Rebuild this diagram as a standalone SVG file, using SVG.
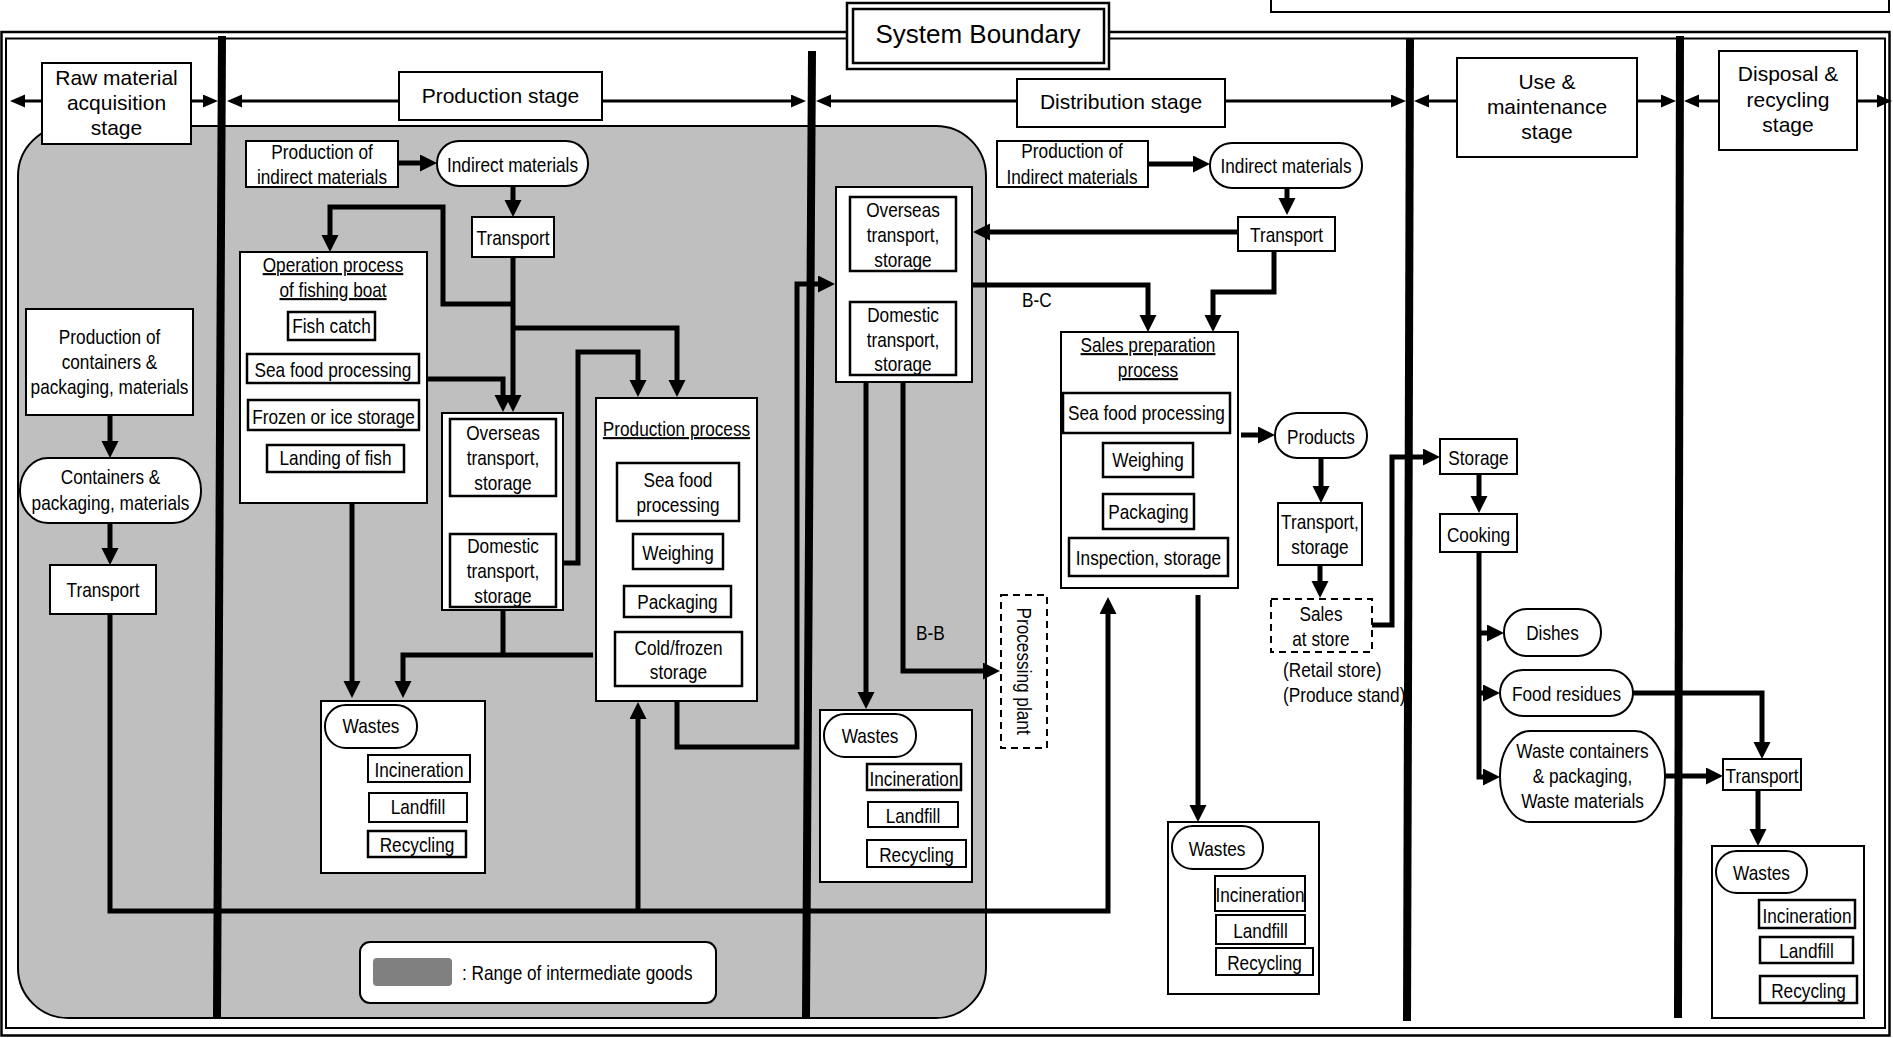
<svg xmlns="http://www.w3.org/2000/svg" width="1893" height="1038" viewBox="0 0 1893 1038">
<style>
.bx{fill:#fff;stroke:#000;stroke-width:2}
.ib{fill:#fff;stroke:#000;stroke-width:2.5}
.dash{fill:#fff;stroke:#000;stroke-width:2;stroke-dasharray:7 5}
.c{fill:none;stroke:#000;stroke-width:5;marker-end:url(#a)}
.l{fill:none;stroke:#000;stroke-width:5}
.s{fill:none;stroke:#000;stroke-width:3;marker-end:url(#t)}
.dv{stroke:#000;stroke-width:8;fill:none}
.n{font-family:"Liberation Sans Narrow","Arial Narrow","Liberation Sans",Arial,sans-serif;font-size:21px;text-anchor:middle;fill:#000;transform-box:fill-box;transform-origin:50% 50%;transform:scaleX(0.82)}
.w{font-family:"Liberation Sans",Arial,sans-serif;font-size:21px;text-anchor:middle;fill:#000}
.st{text-anchor:start;transform-origin:0% 50%}
.u{text-decoration:underline}
</style>
<defs>
<marker id="a" markerUnits="userSpaceOnUse" markerWidth="18" markerHeight="18" refX="7" refY="8.5" orient="auto"><path d="M0,0 L17,8.5 L0,17 z" fill="#000"/></marker>
<marker id="t" markerUnits="userSpaceOnUse" markerWidth="16" markerHeight="14" refX="5" refY="6.5" orient="auto"><path d="M0,0 L15,6.5 L0,13 z" fill="#000"/></marker>
</defs>
<rect width="1893" height="1038" fill="#fff"/>
<g id="frame">
<rect x="1.5" y="32" width="1888" height="1003.5" fill="none" stroke="#000" stroke-width="2.5"/>
<rect x="6" y="38.5" width="1879" height="989.5" fill="none" stroke="#000" stroke-width="2"/>
</g>
<g id="title-box">
<rect x="1271" y="-10" width="618" height="22" class="bx"/>
</g>
<g id="system-boundary">
<rect x="847" y="3" width="262" height="66" fill="#fff" stroke="#000" stroke-width="2.5"/>
<rect x="853" y="9" width="251" height="54" fill="#fff" stroke="#000" stroke-width="2.5"/>
<text x="978" y="43" class="w" style="font-size:26px">System Boundary</text>
</g>
<g id="intermediate-range">
<rect x="18" y="126" width="968" height="892" rx="50" fill="#bfbfbf" stroke="#000" stroke-width="2"/>
</g>
<g id="legend">
<rect x="360" y="942" width="356" height="61" rx="10" class="bx"/>
<rect x="373" y="958" width="79" height="28" rx="4" fill="#808080"/>
<text x="462" y="980" class="n st">: Range of intermediate goods</text>
</g>
<g id="dividers">
<path class="dv" d="M222,36 L217,1018"/>
<path class="dv" d="M812,51 L806,1018"/>
<path class="dv" d="M1410,38 L1407,1021"/>
<path class="dv" d="M1680,36 L1678,1018"/>
</g>
<g id="connectors">
<path class="s" d="M42,101 H20"/>
<path class="s" d="M191,101 H208"/>
<path class="s" d="M399,101 H237"/>
<path class="s" d="M602,101 H796"/>
<path class="s" d="M1017,101 H826"/>
<path class="s" d="M1225,101 H1396"/>
<path class="s" d="M1457,101 H1424"/>
<path class="s" d="M1637,101 H1666"/>
<path class="s" d="M1719,101 H1694"/>
<path class="s" d="M1857,101 H1882"/>
<path class="c" d="M110,415 V448"/>
<path class="c" d="M110,523 V555"/>
<path class="c" d="M110,614 V911 H1108 V607"/>
<path class="c" d="M638,911 V712"/>
<path class="c" d="M398,163 H427"/>
<path class="c" d="M513,186 V207"/>
<path class="c" d="M513,257 V402"/>
<path class="c" d="M513,304 H443 V207 H330 V242"/>
<path class="c" d="M513,328 H677 V387"/>
<path class="c" d="M427,379 H503 V402"/>
<path class="c" d="M563,563 H578 V352 H638 V387"/>
<path class="c" d="M352,503 V688"/>
<path class="l" d="M503,610 V655"/>
<path class="c" d="M593,655 H403 V688"/>
<path class="c" d="M503,496 V524"/>
<path class="c" d="M677,701 V747 H797 V284 H825"/>
<path class="c" d="M902,271 V295"/>
<path class="c" d="M1238,232 H983"/>
<path class="c" d="M972,285 H1148 V322"/>
<path class="c" d="M1148,164 H1200"/>
<path class="c" d="M1287,188 V205"/>
<path class="c" d="M1274,251 V292 H1213 V322"/>
<path class="c" d="M866,382 V699"/>
<path class="c" d="M903,375 V671 H990"/>
<path class="c" d="M1198,595 V812"/>
<path class="c" d="M1241,435 H1265"/>
<path class="c" d="M1321,458 V493"/>
<path class="c" d="M1320,565 V588"/>
<path class="c" d="M1372,625 H1392 V457 H1430"/>
<path class="c" d="M1479,474 V503"/>
<path class="c" d="M1479,552 V777 H1490"/>
<path class="c" d="M1479,633 H1494"/>
<path class="c" d="M1479,693 H1490"/>
<path class="c" d="M1633,693 H1762 V749"/>
<path class="c" d="M1665,776 H1713"/>
<path class="c" d="M1758,790 V836"/>
<path class="l" d="M351,748 V845 H368 M351,771 H368 M351,806 H369"/>
<path class="l" d="M850,757 V857 H867 M850,779 H867 M850,816 H868"/>
<path class="l" d="M1198,869 V967 H1216 M1198,893 H1215 M1198,927 H1216"/>
<path class="l" d="M1742,893 V991 H1760 M1742,917 H1759 M1742,952 H1760"/>
</g>
<g id="stage-raw">
<rect x="42" y="63" width="149" height="81" class="bx"/>
<text class="w" x="116.5" y="85">Raw material</text>
<text class="w" x="116.5" y="110">acquisition</text>
<text class="w" x="116.5" y="135">stage</text>
</g>
<g id="stage-production">
<rect x="399" y="72" width="203" height="48" class="bx"/>
<text class="w" x="500.5" y="103">Production stage</text>
</g>
<g id="stage-distribution">
<rect x="1017" y="79" width="208" height="48" class="bx"/>
<text class="w" x="1121" y="109">Distribution stage</text>
</g>
<g id="stage-use">
<rect x="1457" y="58" width="180" height="99" class="bx"/>
<text class="w" x="1547" y="89">Use &amp;</text>
<text class="w" x="1547" y="114">maintenance</text>
<text class="w" x="1547" y="139">stage</text>
</g>
<g id="stage-disposal">
<rect x="1719" y="51" width="138" height="99" class="bx"/>
<text class="w" x="1788" y="81">Disposal &amp;</text>
<text class="w" x="1788" y="107">recycling</text>
<text class="w" x="1788" y="132">stage</text>
</g>
<g id="prod-containers">
<rect x="26" y="309" width="167" height="106" class="bx"/>
<text class="n" x="109.5" y="344">Production of</text>
<text class="n" x="109.5" y="369">containers &amp;</text>
<text class="n" x="109.5" y="394">packaging, materials</text>
</g>
<g id="containers">
<rect x="20" y="458" width="181" height="65" rx="28" ry="32" class="bx"/>
<text class="n" x="110.5" y="484">Containers &amp;</text>
<text class="n" x="110.5" y="510">packaging, materials</text>
</g>
<g id="transport-raw">
<rect x="50" y="565" width="106" height="49" class="bx"/>
<text class="n" x="103" y="597">Transport</text>
</g>
<g id="prod-indirect-1">
<rect x="246" y="141" width="152" height="46" class="bx"/>
<text class="n" x="322" y="159">Production of</text>
<text class="n" x="322" y="184">indirect materials</text>
</g>
<g id="indirect-1">
<rect x="437" y="141" width="151" height="45" rx="22" class="bx"/>
<text class="n" x="512.5" y="172">Indirect materials</text>
</g>
<g id="transport-1">
<rect x="472" y="217" width="82" height="40" class="bx"/>
<text class="n" x="513" y="245">Transport</text>
</g>
<g id="operation">
<rect x="240" y="252" width="187" height="251" class="bx"/>
<text class="n u" x="333" y="272">Operation process</text>
<text class="n u" x="333" y="297">of fishing boat</text>
<rect x="288" y="312" width="87" height="28" class="ib"/>
<text class="n" x="331.5" y="333">Fish catch</text>
<rect x="247" y="354" width="172" height="29" class="ib"/>
<text class="n" x="333" y="377">Sea food processing</text>
<rect x="248" y="400" width="171" height="30" class="ib"/>
<text class="n" x="333.5" y="424">Frozen or ice storage</text>
<rect x="267" y="445" width="137" height="27" class="ib"/>
<text class="n" x="335.5" y="465">Landing of fish</text>
</g>
<g id="transport-prod">
<rect x="442" y="413" width="121" height="197" class="bx"/>
<rect x="450" y="419" width="106" height="77" class="ib"/>
<text class="n" x="503" y="440">Overseas</text>
<text class="n" x="503" y="465">transport,</text>
<text class="n" x="503" y="490">storage</text>
<rect x="450" y="534" width="106" height="73" class="ib"/>
<text class="n" x="503" y="553">Domestic</text>
<text class="n" x="503" y="578">transport,</text>
<text class="n" x="503" y="603">storage</text>
</g>
<g id="production-process">
<rect x="596" y="398" width="161" height="303" class="bx"/>
<text class="n u" x="676.5" y="436">Production process</text>
<rect x="617" y="463" width="122" height="58" class="ib"/>
<text class="n" x="678" y="487">Sea food</text>
<text class="n" x="678" y="512">processing</text>
<rect x="633" y="534" width="90" height="35" class="ib"/>
<text class="n" x="678" y="560">Weighing</text>
<rect x="624" y="586" width="107" height="31" class="ib"/>
<text class="n" x="677.5" y="609">Packaging</text>
<rect x="615" y="632" width="127" height="54" class="ib"/>
<text class="n" x="678.5" y="655">Cold/frozen</text>
<text class="n" x="678.5" y="679">storage</text>
</g>
<g id="wastes-prod">
<rect x="321" y="701" width="164" height="172" class="bx"/>
<rect x="325" y="705" width="92" height="43" rx="21" class="bx"/>
<text class="n" x="371" y="733">Wastes</text>
<rect x="368" y="755" width="102" height="27" class="bx"/>
<text class="n" x="419" y="777">Incineration</text>
<rect x="369" y="793" width="98" height="29" class="bx"/>
<text class="n" x="418" y="814">Landfill</text>
<rect x="368" y="831" width="98" height="26" class="ib"/>
<text class="n" x="417" y="852">Recycling</text>
</g>
<g id="transport-dist">
<rect x="836" y="187" width="136" height="195" class="bx"/>
<rect x="850" y="197" width="106" height="74" class="ib"/>
<text class="n" x="903" y="217">Overseas</text>
<text class="n" x="903" y="242">transport,</text>
<text class="n" x="903" y="267">storage</text>
<rect x="850" y="302" width="106" height="73" class="ib"/>
<text class="n" x="903" y="322">Domestic</text>
<text class="n" x="903" y="347">transport,</text>
<text class="n" x="903" y="371">storage</text>
</g>
<g id="prod-indirect-2">
<rect x="997" y="141" width="151" height="46" class="bx"/>
<text class="n" x="1072" y="158">Production of</text>
<text class="n" x="1072" y="184">Indirect materials</text>
</g>
<g id="indirect-2">
<rect x="1210" y="143" width="152" height="45" rx="22" class="bx"/>
<text class="n" x="1286" y="173">Indirect materials</text>
</g>
<g id="transport-2">
<rect x="1238" y="217" width="97" height="34" class="bx"/>
<text class="n" x="1286.5" y="242">Transport</text>
</g>
<g id="labels">
<text class="n st" x="1022" y="307">B-C</text>
<text class="n st" x="916" y="640">B-B</text>
</g>
<g id="processing-plant">
<rect x="1001" y="595" width="46" height="153" class="dash"/>
<g transform="translate(1017,671) rotate(90)"><text class="n" x="0" y="0">Processing plant</text></g>
</g>
<g id="wastes-dist">
<rect x="820" y="710" width="152" height="172" class="bx"/>
<rect x="824" y="714" width="92" height="43" rx="21" class="bx"/>
<text class="n" x="870" y="743">Wastes</text>
<rect x="867" y="764" width="94" height="26" class="ib"/>
<text class="n" x="914" y="786">Incineration</text>
<rect x="868" y="802" width="90" height="25" class="bx"/>
<text class="n" x="913" y="823">Landfill</text>
<rect x="867" y="840" width="99" height="27" class="bx"/>
<text class="n" x="916.5" y="862">Recycling</text>
</g>
<g id="sales-prep">
<rect x="1061" y="332" width="177" height="256" class="bx"/>
<text class="n u" x="1148" y="352">Sales preparation</text>
<text class="n u" x="1148" y="377">process</text>
<rect x="1063" y="393" width="167" height="40" class="ib"/>
<text class="n" x="1146.5" y="420">Sea food processing</text>
<rect x="1103" y="443" width="90" height="34" class="ib"/>
<text class="n" x="1148" y="467">Weighing</text>
<rect x="1103" y="494" width="91" height="35" class="ib"/>
<text class="n" x="1148.5" y="519">Packaging</text>
<rect x="1069" y="538" width="159" height="38" class="ib"/>
<text class="n" x="1148.5" y="565">Inspection, storage</text>
</g>
<g id="products">
<rect x="1275" y="413" width="92" height="45" rx="22" class="bx"/>
<text class="n" x="1321" y="444">Products</text>
</g>
<g id="transport-storage">
<rect x="1278" y="503" width="84" height="62" class="bx"/>
<text class="n" x="1320" y="529">Transport,</text>
<text class="n" x="1320" y="554">storage</text>
</g>
<g id="sales-store">
<rect x="1271" y="599" width="101" height="53" class="dash"/>
<text class="n" x="1321" y="621">Sales</text>
<text class="n" x="1321" y="646">at store</text>
<text class="n st" x="1283" y="677">(Retail store)</text>
<text class="n st" x="1283" y="702">(Produce stand)</text>
</g>
<g id="wastes-sales">
<rect x="1168" y="822" width="151" height="172" class="bx"/>
<rect x="1172" y="826" width="91" height="43" rx="21" class="bx"/>
<text class="n" x="1217" y="856">Wastes</text>
<rect x="1215" y="876" width="90" height="35" class="bx"/>
<text class="n" x="1260" y="902">Incineration</text>
<rect x="1216" y="915" width="89" height="29" class="bx"/>
<text class="n" x="1260.5" y="938">Landfill</text>
<rect x="1216" y="948" width="97" height="27" class="bx"/>
<text class="n" x="1264.5" y="970">Recycling</text>
</g>
<g id="storage">
<rect x="1440" y="439" width="77" height="35" class="bx"/>
<text class="n" x="1478.5" y="465">Storage</text>
</g>
<g id="cooking">
<rect x="1440" y="514" width="77" height="38" class="bx"/>
<text class="n" x="1478.5" y="542">Cooking</text>
</g>
<g id="dishes">
<rect x="1504" y="609" width="97" height="47" rx="23" class="bx"/>
<text class="n" x="1552.5" y="640">Dishes</text>
</g>
<g id="food-residues">
<rect x="1500" y="670" width="133" height="46" rx="23" class="bx"/>
<text class="n" x="1566.5" y="701">Food residues</text>
</g>
<g id="waste-containers">
<rect x="1500" y="731" width="165" height="91" rx="30" ry="45" class="bx"/>
<text class="n" x="1582.5" y="758">Waste containers</text>
<text class="n" x="1582.5" y="783">&amp; packaging,</text>
<text class="n" x="1582.5" y="808">Waste materials</text>
</g>
<g id="transport-disposal">
<rect x="1723" y="759" width="78" height="31" class="bx"/>
<text class="n" x="1762" y="783">Transport</text>
</g>
<g id="wastes-disposal">
<rect x="1712" y="846" width="152" height="172" class="bx"/>
<rect x="1716" y="851" width="91" height="42" rx="21" class="bx"/>
<text class="n" x="1761.5" y="880">Wastes</text>
<rect x="1759" y="900" width="96" height="28" class="ib"/>
<text class="n" x="1807" y="923">Incineration</text>
<rect x="1760" y="937" width="93" height="26" class="ib"/>
<text class="n" x="1806.5" y="958">Landfill</text>
<rect x="1760" y="976" width="97" height="27" class="ib"/>
<text class="n" x="1808.5" y="998">Recycling</text>
</g>
</svg>
